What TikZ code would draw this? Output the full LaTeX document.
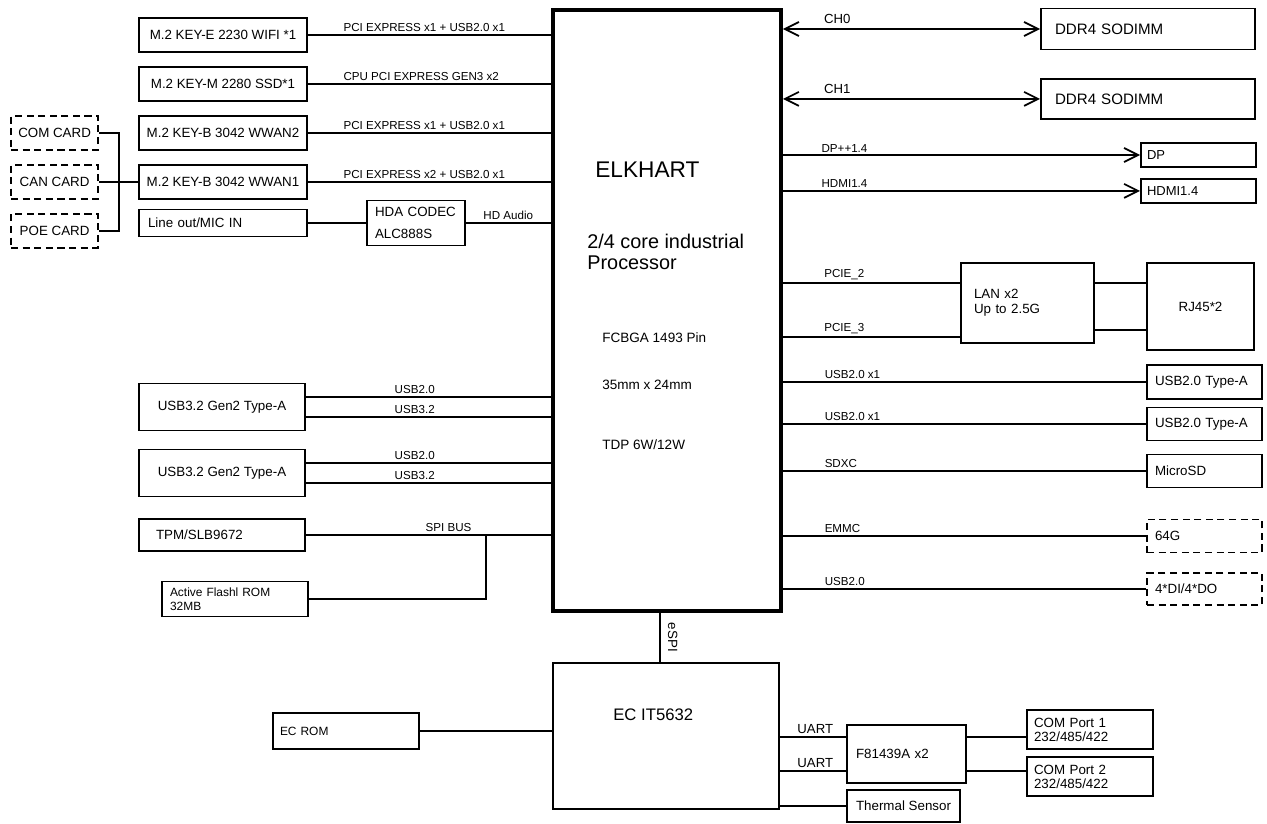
\documentclass[tikz,border=0pt]{standalone}
\usepackage{fontspec}
\setmainfont{Liberation Sans}
\usetikzlibrary{arrows.meta, positioning}

\begin{document}
\begin{tikzpicture}[
    x=0.02cm, y=-0.02cm,
    block/.style={rectangle, draw, line width=1.1pt, inner sep=0pt, minimum width=3.36cm, minimum height=0.68cm, font=\fontsize{7.6}{9}\selectfont},
    lblock/.style={block, align=left, minimum width=0pt},
    card/.style={block, dash pattern=on 4pt off 2.6pt, minimum width=1.74cm},
    dashblock/.style={lblock, dash pattern=on 4pt off 2.6pt},
    cpubox/.style={rectangle, draw, line width=2.2pt, minimum width=4.56cm, minimum height=12.02cm},
    chiptext/.style={inner sep=0pt, anchor=west, align=left},
    link/.style={line width=1pt},
    memlink/.style={link, {Straight Barb[length=2.8mm,width=2.8mm]}-{Straight Barb[length=2.8mm,width=2.8mm]}},
    vidlink/.style={link, -{Straight Barb[length=2.8mm,width=2.8mm]}},
    signal/.style={font=\fontsize{6.6}{8}\selectfont, inner sep=1.2pt, anchor=south west}
  ]
    \useasboundingbox (0,0) rectangle (1267,824);

    % M.2 slots
    \node[block] (wifi) at (223,35) {M.2 KEY-E 2230 WIFI *1};
    \node[block, below=0.26cm of wifi] (ssd) {M.2 KEY-M 2280 SSD*1};
    \node[block, below=0.26cm of ssd] (wwan2) {M.2 KEY-B 3042 WWAN2};
    \node[block, below=0.26cm of wwan2] (wwan1) {M.2 KEY-B 3042 WWAN1};

    % Option cards
    \node[card, left=0.78cm of wwan1] (cancard) {CAN CARD};
    \node[card, above=0.26cm of cancard] (comcard) {COM CARD};
    \node[card, below=0.26cm of cancard] (poecard) {POE CARD};

    % Audio
    \node[lblock, text width=3cm, inner xsep=0.18cm, minimum height=0.54cm] (lineout) at (223,223) {Line out/MIC IN};
    \node[lblock, text width=1.64cm, inner xsep=0.16cm, minimum height=0.9cm, font=\fontsize{7.6}{12.5}\selectfont] (codec) at (416,223) {HDA CODEC\\ALC888S};

    % USB, TPM, flash
    \node[block, minimum width=3.32cm, minimum height=0.94cm] (usb3a) at (222,407) {USB3.2 Gen2 Type-A};
    \node[block, minimum width=3.32cm, minimum height=0.94cm] (usb3b) at (222,473) {USB3.2 Gen2 Type-A};
    \node[lblock, text width=2.64cm, inner xsep=0.34cm, minimum height=0.64cm] (tpm) at (222,535) {TPM/SLB9672};
    \node[lblock, text width=2.6cm, inner xsep=0.16cm, minimum height=0.7cm, font=\fontsize{6.8}{8}\selectfont] (flash) at (235,599) {Active Flashl ROM\\32MB};

    % Processor
    \node[cpubox] (cpu) at (667,310.5) {};
    \node[chiptext, font=\fontsize{12.9}{14}\selectfont] (elkhart) at (595,170) {ELKHART};
    \node[chiptext, font=\fontsize{11.3}{11.5}\selectfont] (cores) at (587,252) {2/4 core industrial\\Processor};
    \node[chiptext, font=\fontsize{7.7}{9}\selectfont] (pkg) at (602,338) {FCBGA 1493 Pin};
    \node[chiptext, font=\fontsize{7.7}{9}\selectfont] (dims) at (602,385) {35mm x 24mm};
    \node[chiptext, font=\fontsize{7.7}{9}\selectfont] (tdp) at (602,445) {TDP 6W/12W};

    % Memory and display
    \node[lblock, text width=3.72cm, inner xsep=0.28cm, minimum height=0.82cm, font=\fontsize{8.6}{10}\selectfont] (ddr0) at (1148,29) {DDR4 SODIMM};
    \node[lblock, text width=3.72cm, inner xsep=0.28cm, minimum height=0.8cm, font=\fontsize{8.6}{10}\selectfont, below=0.55cm of ddr0] (ddr1) {DDR4 SODIMM};
    \node[lblock, text width=2.06cm, inner xsep=0.12cm, minimum height=0.48cm, font=\fontsize{7.4}{8}\selectfont] (dp) at (1198.5,155) {DP};
    \node[lblock, text width=2.06cm, inner xsep=0.12cm, minimum height=0.48cm, font=\fontsize{7.4}{8}\selectfont, below=0.2cm of dp] (hdmi) {HDMI1.4};

    % LAN
    \node[lblock, text width=2.14cm, inner xsep=0.26cm, minimum height=1.6cm, font=\fontsize{7.6}{8.5}\selectfont] (lan) at (1027.5,303) {LAN x2\\Up to 2.5G};
    \node[block, minimum width=2.14cm, minimum height=1.74cm] (rj45) at (1200.5,306.5) {RJ45*2};

    % Right side I/O
    \node[lblock, text width=1.98cm, inner xsep=0.16cm] (usb2a) at (1204.5,382) {USB2.0 Type-A};
    \node[lblock, text width=1.98cm, inner xsep=0.16cm, minimum height=0.66cm] (usb2b) at (1204.5,424) {USB2.0 Type-A};
    \node[lblock, text width=1.98cm, inner xsep=0.16cm, minimum height=0.66cm] (microsd) at (1204.5,471) {MicroSD};
    \node[dashblock, text width=1.98cm, inner xsep=0.16cm, minimum height=0.66cm] (emmc64) at (1204.5,536) {64G};
    \node[dashblock, text width=1.98cm, inner xsep=0.16cm, minimum height=0.64cm] (dio) at (1204.5,589) {4*DI/4*DO};

    % Embedded controller
    \node[block, minimum width=4.52cm, minimum height=2.92cm] (ec) at (666,736) {};
    \node[chiptext, font=\fontsize{9.5}{11}\selectfont] (ecname) at (613,715) {EC IT5632};
    \node[lblock, text width=2.64cm, inner xsep=0.14cm, minimum height=0.72cm, font=\fontsize{6.8}{8}\selectfont] (ecrom) at (346,731) {EC ROM};
    \node[lblock, text width=2.02cm, inner xsep=0.18cm, minimum height=1.16cm] (sio) at (906.5,754) {F81439A x2};
    \node[block, minimum width=2.26cm, minimum height=0.64cm] (thermal) at (903.5,806) {Thermal Sensor};
    \node[lblock, text width=2.24cm, inner xsep=0.14cm, minimum height=0.78cm, font=\fontsize{7.6}{8}\selectfont] (com1) at (1090,729.5) {COM Port 1\\232/485/422};
    \node[lblock, text width=2.24cm, inner xsep=0.14cm, minimum height=0.78cm, font=\fontsize{7.6}{8}\selectfont] (com2) at (1090,776.5) {COM Port 2\\232/485/422};

    % Left buses
    \draw[link] (wifi.east) -- node[signal, pos=0.134] {PCI EXPRESS x1 + USB2.0 x1} (wifi.east -| cpu.west);
    \draw[link] (ssd.east) -- node[signal, pos=0.134] {CPU PCI EXPRESS GEN3 x2} (ssd.east -| cpu.west);
    \draw[link] (wwan2.east) -- node[signal, pos=0.134] {PCI EXPRESS x1 + USB2.0 x1} (wwan2.east -| cpu.west);
    \draw[link] (wwan1.east) -- node[signal, pos=0.134] {PCI EXPRESS x2 + USB2.0 x1} (wwan1.east -| cpu.west);

    \coordinate (cardbus) at (119,0);
    \draw[link] (comcard.east) -- (comcard.east -| cardbus) -- (poecard.east -| cardbus) -- (poecard.east);
    \draw[link] (cancard.east) -- (wwan1.west);

    \draw[link] (lineout.east) -- (codec.west);
    \draw[link] (codec.east) -- node[signal, pos=0.17] {HD Audio} (codec.east -| cpu.west);

    \coordinate (u3a-hs) at ([yshift=0.2cm]usb3a.east);
    \coordinate (u3a-ss) at ([yshift=-0.2cm]usb3a.east);
    \coordinate (u3b-hs) at ([yshift=0.2cm]usb3b.east);
    \coordinate (u3b-ss) at ([yshift=-0.2cm]usb3b.east);
    \draw[link] (u3a-hs) -- node[signal, pos=0.35] {USB2.0} (u3a-hs -| cpu.west);
    \draw[link] (u3a-ss) -- node[signal, pos=0.35] {USB3.2} (u3a-ss -| cpu.west);
    \draw[link] (u3b-hs) -- node[signal, pos=0.35] {USB2.0} (u3b-hs -| cpu.west);
    \draw[link] (u3b-ss) -- node[signal, pos=0.35] {USB3.2} (u3b-ss -| cpu.west);

    \coordinate (spitap) at (486,0);
    \draw[link] (tpm.east) -- node[signal, pos=0.476] {SPI BUS} (tpm.east -| cpu.west);
    \draw[link] (flash.east) -| (spitap |- tpm.east);

    % Right buses
    \draw[memlink] (ddr0.west -| cpu.east) -- node[signal, pos=0.14, inner sep=2.5pt, font=\fontsize{7.5}{9}\selectfont] {CH0} (ddr0.west);
    \draw[memlink] (ddr1.west -| cpu.east) -- node[signal, pos=0.14, inner sep=2.5pt, font=\fontsize{7.5}{9}\selectfont] {CH1} (ddr1.west);
    \draw[vidlink] (dp.west -| cpu.east) -- node[signal, pos=0.1] {DP++1.4} (dp.west);
    \draw[vidlink] (hdmi.west -| cpu.east) -- node[signal, pos=0.1] {HDMI1.4} (hdmi.west);

    \coordinate (pcie2) at ([yshift=0.4cm]lan.west);
    \coordinate (pcie3) at ([yshift=-0.68cm]lan.west);
    \draw[link] (pcie2 -| cpu.east) -- node[signal, pos=0.217] {PCIE\_2} (pcie2);
    \draw[link] (pcie3 -| cpu.east) -- node[signal, pos=0.217] {PCIE\_3} (pcie3);
    \coordinate (mdi1) at ([yshift=0.4cm]lan.east);
    \coordinate (mdi2) at ([yshift=-0.54cm]lan.east);
    \draw[link] (mdi1) -- (mdi1 -| rj45.west);
    \draw[link] (mdi2) -- (mdi2 -| rj45.west);

    \draw[link] (usb2a.west -| cpu.east) -- node[signal, pos=0.107] {USB2.0 x1} (usb2a.west);
    \draw[link] (usb2b.west -| cpu.east) -- node[signal, pos=0.107] {USB2.0 x1} (usb2b.west);
    \draw[link] (microsd.west -| cpu.east) -- node[signal, pos=0.107] {SDXC} (microsd.west);
    \draw[link] (emmc64.west -| cpu.east) -- node[signal, pos=0.107] {EMMC} (emmc64.west);
    \draw[link] (dio.west -| cpu.east) -- node[signal, pos=0.107] {USB2.0} (dio.west);

    % EC links
    \coordinate (espitop) at ([xshift=-0.14cm]cpu.south);
    \draw[link] (espitop) -- node[signal, midway, rotate=-90, anchor=south, inner sep=4pt, font=\fontsize{7.6}{9}\selectfont] {eSPI} (espitop |- ec.north);
    \draw[link] (ecrom.east) -- (ecrom.east -| ec.west);

    \coordinate (uart1) at ([yshift=0.34cm]sio.west);
    \coordinate (uart2) at ([yshift=-0.34cm]sio.west);
    \draw[link] (uart1 -| ec.east) -- node[signal, pos=0.22, font=\fontsize{7.5}{9}\selectfont] {UART} (uart1);
    \draw[link] (uart2 -| ec.east) -- node[signal, pos=0.22, font=\fontsize{7.5}{9}\selectfont] {UART} (uart2);
    \draw[link] (uart1 -| sio.east) -- (uart1 -| com1.west);
    \draw[link] (uart2 -| sio.east) -- (uart2 -| com2.west);
    \draw[link] (thermal.west -| ec.east) -- (thermal.west);

  \end{tikzpicture}
\end{document}
